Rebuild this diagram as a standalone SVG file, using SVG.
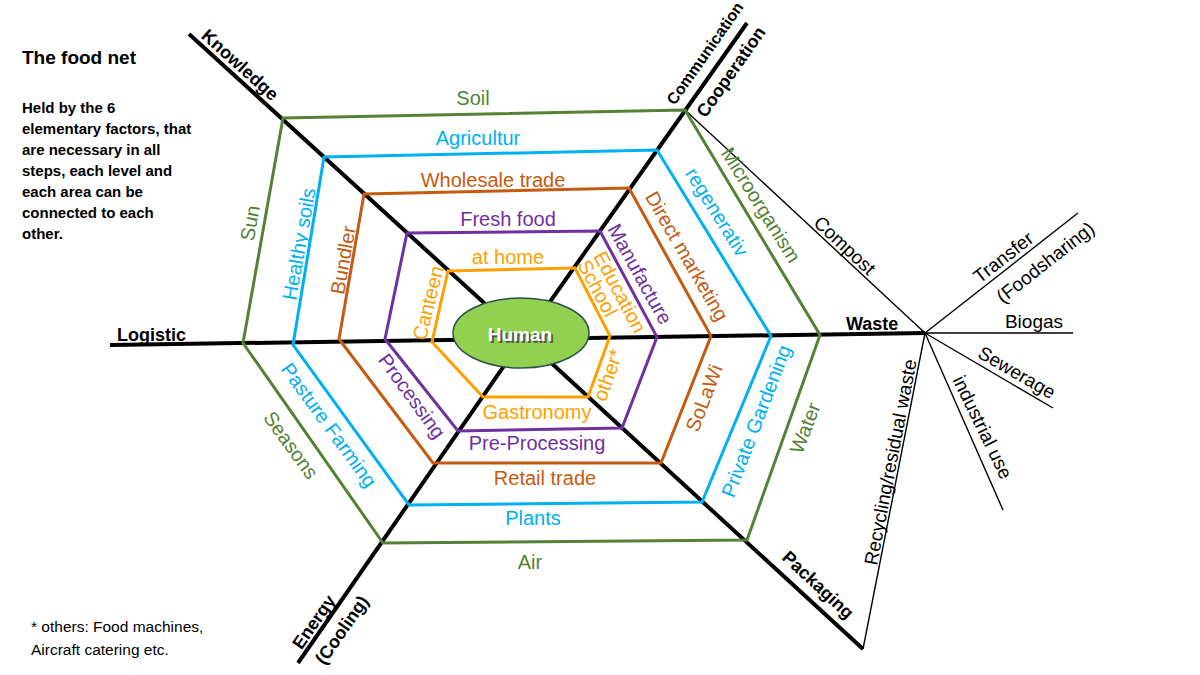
<svg xmlns="http://www.w3.org/2000/svg" width="1200" height="675" viewBox="0 0 1200 675">
<defs>
<style>
.hex{fill:none;stroke-width:3;stroke-linejoin:miter}
.g{stroke:#548235}.b{stroke:#00B0F0}.r{stroke:#C55A11}.p{stroke:#7030A0}.o{stroke:#FFA000}
.axis{stroke:#000;stroke-width:4;fill:none}
.thin{stroke:#000;stroke-width:1.4;fill:none}
.lbl{font-family:"Liberation Sans",Arial,sans-serif;font-size:20px;text-anchor:middle}
.tg{fill:#548235}.tb{fill:#00B0F0}.tr{fill:#C55A11}.tp{fill:#7030A0}.to{fill:#FFA000}
.ax{font-family:"Liberation Sans",Arial,sans-serif;font-size:18px;font-weight:bold;fill:#000}
.tl{font-family:"Liberation Sans",Arial,sans-serif;font-size:19px;fill:#000;text-anchor:middle}
.note{font-family:"Liberation Sans",Arial,sans-serif;fill:#000}
</style>
</defs>
<rect width="1200" height="675" fill="#fff"/>

<g id="connectors">
<line class="axis" x1="189" y1="34" x2="505" y2="322"/>
<line class="axis" x1="747" y1="23" x2="530" y2="330"/>
<line class="axis" x1="110" y1="345" x2="925" y2="333"/>
<line class="axis" x1="298" y1="663" x2="515" y2="350"/>
<line class="axis" x1="863" y1="649" x2="535" y2="348"/>
<line class="thin" x1="685" y1="110" x2="925" y2="333"/>
<line class="thin" x1="925" y1="333" x2="1078" y2="213"/>
<line class="thin" x1="925" y1="333" x2="1073" y2="333"/>
<line class="thin" x1="925" y1="333" x2="1053" y2="408"/>
<line class="thin" x1="925" y1="333" x2="1003" y2="510"/>
<line class="thin" x1="925" y1="333" x2="863" y2="649"/>
</g>

<g id="ring-green">
<polygon class="hex g" points="283,118 685,110 820,335 747,540 383,543 243,343"/>
<text class="lbl tg" x="473" y="105">Soil</text>
<text class="lbl tg" transform="translate(250,223) rotate(-80)" y="7">Sun</text>
<text class="lbl tg" transform="translate(761,205) rotate(58)" y="7">Microorganism</text>
<text class="lbl tg" transform="translate(805,428) rotate(-69)" y="7">Water</text>
<text class="lbl tg" x="530" y="569">Air</text>
<text class="lbl tg" transform="translate(291,445) rotate(54)" y="7">Seasons</text>
</g>

<g id="ring-blue">
<polygon class="hex b" points="324,157 657,150 771,336 702,502 409,505 293,345"/>
<text class="lbl tb" x="478" y="145">Agricultur</text>
<text class="lbl tb" transform="translate(299,244) rotate(-80)" y="7">Healthy soils</text>
<text class="lbl tb" transform="translate(717,212) rotate(58)" y="7">regenerativ</text>
<text class="lbl tb" transform="translate(756,421) rotate(-69)" y="7">Private Gardening</text>
<text class="lbl tb" x="533" y="525">Plants</text>
<text class="lbl tb" transform="translate(329,425) rotate(54)" y="7">Pasture Farming</text>
</g>

<g id="ring-brown">
<polygon class="hex r" points="364,194 629,188 711,336 661,463 433,463 339,339"/>
<text class="lbl tr" x="493" y="187">Wholesale trade</text>
<text class="lbl tr" transform="translate(343,260) rotate(-80)" y="7">Bundler</text>
<text class="lbl tr" transform="translate(687,256) rotate(60)" y="7">Direct marketing</text>
<text class="lbl tr" transform="translate(704,398) rotate(-69)" y="7">SoLaWi</text>
<text class="lbl tr" x="545" y="485">Retail trade</text>
</g>

<g id="ring-purple">
<polygon class="hex p" points="407,233 600,231 657,337 622,428 458,431 385,339"/>
<text class="lbl tp" x="508" y="226">Fresh food</text>
<text class="lbl tp" transform="translate(640,274) rotate(61)" y="7">Manufacture</text>
<text class="lbl tp" x="537" y="450">Pre-Processing</text>
<text class="lbl tp" transform="translate(412,396) rotate(54)" y="7">Processing</text>
</g>

<g id="ring-orange">
<polygon class="hex o" points="448,271 575,268 610,336 588,397 483,397 432,342"/>
<text class="lbl to" x="508" y="264">at home</text>
<text class="lbl to" transform="translate(428,303) rotate(-76)" y="7">Canteen</text>
<text class="lbl to" transform="translate(593,256) rotate(62)" style="text-anchor:start"><tspan x="0" y="0">Education</tspan><tspan x="0" y="18">School</tspan></text>
<text class="lbl to" transform="translate(608,375) rotate(-70)" y="7">other*</text>
<text class="lbl to" x="537" y="419">Gastronomy</text>
</g>

<g id="human">
<ellipse cx="521" cy="333" rx="68" ry="35" fill="#92D050" stroke="#2F4F4F" stroke-width="1.5"/>
<text x="522" y="343" text-anchor="middle" class="ax" style="font-size:19px;fill:#555">Human</text>
<text x="520" y="341" text-anchor="middle" class="ax" style="font-size:19px;fill:#fff">Human</text>
</g>

<g id="axis-labels">
<text class="ax" transform="translate(240,65) rotate(42)" text-anchor="middle" y="6">Knowledge</text>
<text class="ax" transform="translate(677,110) rotate(-55)" x="2" y="-4" style="font-size:16px">Communication</text>
<text class="ax" transform="translate(731,72) rotate(-55)" text-anchor="middle" y="6">Cooperation</text>
<text class="ax" x="117" y="341">Logistic</text>
<text class="ax" x="846" y="330">Waste</text>
<text class="ax" transform="translate(314,622) rotate(-55)" text-anchor="middle" y="6">Energy</text>
<text class="ax" transform="translate(342,630) rotate(-55)" text-anchor="middle" y="6">(Cooling)</text>
<text class="ax" transform="translate(818,585) rotate(43)" text-anchor="middle" y="6">Packaging</text>
</g>

<g id="waste-labels">
<text class="tl" transform="translate(845,245) rotate(43)" y="7">Compost</text>
<text class="tl" transform="translate(1003,257) rotate(-38)" y="7">Transfer</text>
<text class="tl" transform="translate(1045,262) rotate(-38)" y="7">(Foodsharing)</text>
<text class="tl" x="1034" y="328">Biogas</text>
<text class="tl" transform="translate(1017,372) rotate(30)" y="7">Sewerage</text>
<text class="tl" transform="translate(983,427) rotate(64)" y="7">industrial use</text>
<text class="tl" transform="translate(890,462) rotate(-79)" y="7">Recycling/residual waste</text>
</g>

<g id="title">
<text class="note" x="22" y="64" style="font-size:19px;font-weight:bold">The food net</text>
<text class="note" style="font-size:15px;font-weight:bold">
<tspan x="22" y="113">Held by the 6</tspan>
<tspan x="22" y="134">elementary factors, that</tspan>
<tspan x="22" y="155">are necessary in all</tspan>
<tspan x="22" y="176">steps, each level and</tspan>
<tspan x="22" y="197">each area can be</tspan>
<tspan x="22" y="218">connected to each</tspan>
<tspan x="22" y="239">other.</tspan>
</text>
</g>

<g id="footnote">
<text class="note" style="font-size:15.5px">
<tspan x="31" y="632">* others: Food machines,</tspan>
<tspan x="31" y="655">Aircraft catering etc.</tspan>
</text>
</g>
</svg>
